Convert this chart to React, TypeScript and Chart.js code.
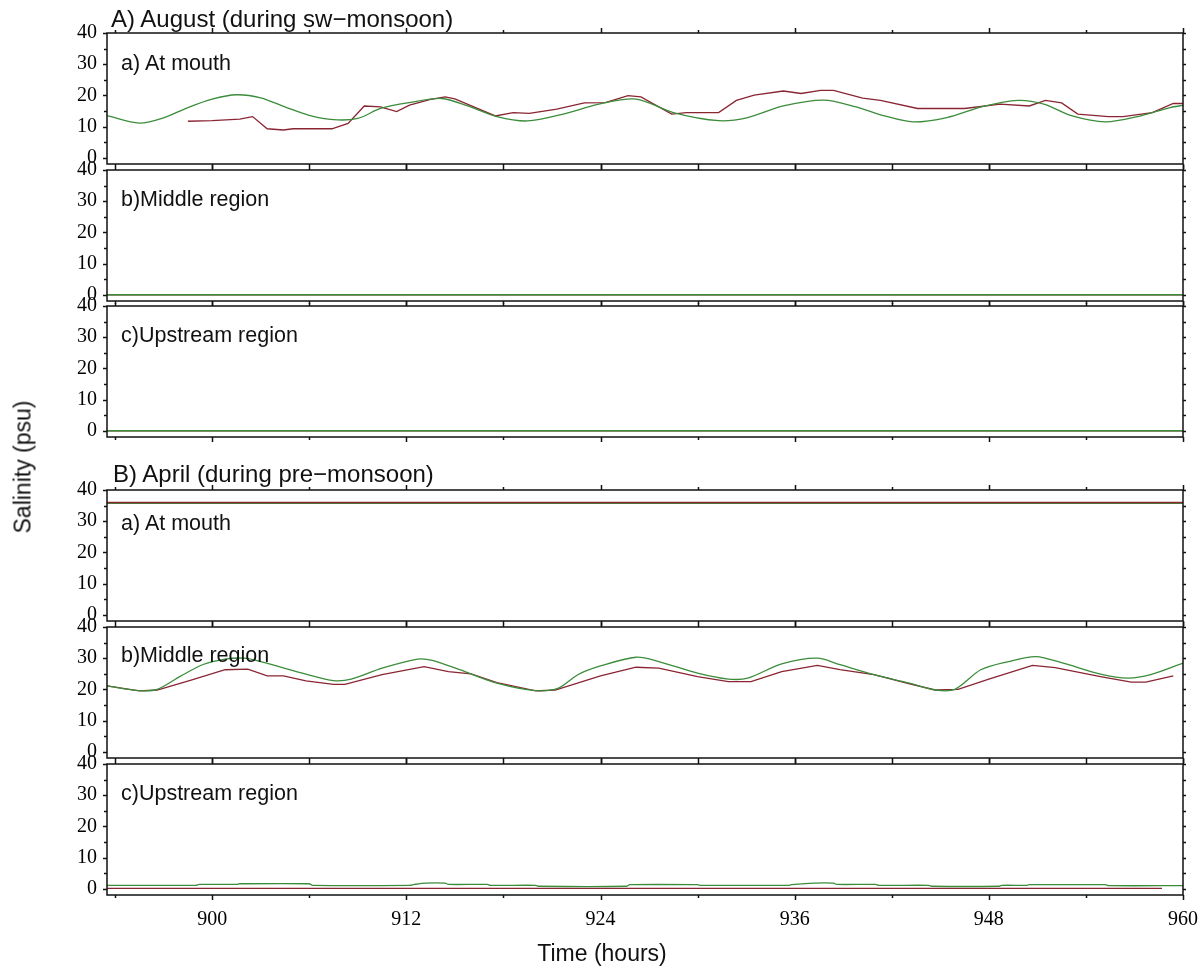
import React, { useEffect, useRef } from "react";
import { Chart, registerables } from "chart.js";

Chart.register(...registerables);

// ---------- data ----------
const X_MIN = 893.5;
const X_MAX = 960;
const X_TICKS = [894, 900, 906, 912, 918, 924, 930, 936, 942, 948, 954, 960];
const Y_TICKS = [0, 5, 10, 15, 20, 25, 30, 35, 40];

// A) August, a) at mouth
const A_MOUTH_MODEL_H = [893.5, 895.5, 897, 898.5, 900, 901.5, 903, 904.6, 906, 907.5, 909, 910.4, 912.2, 914.2, 915.8, 917.6, 919.5, 921.7, 923.9, 926.2, 928.5, 931.3, 933.1, 935.3, 937.8, 939.8, 941.5, 943.3, 945.4, 947.6, 949.8, 951.4, 953.1, 955.2, 957.2, 959.2, 960];
const A_MOUTH_MODEL_S = [13.5, 11.1, 12.8, 16.1, 18.8, 20.2, 19.2, 16.1, 13.6, 12.2, 12.6, 15.8, 17.7, 19.0, 16.6, 13.2, 11.8, 14.0, 17.2, 18.8, 14.5, 11.9, 12.9, 16.6, 18.5, 16.3, 13.5, 11.5, 12.9, 16.4, 18.4, 17.2, 13.5, 11.5, 13.2, 16.1, 16.8];
const A_MOUTH_OBS_H = [898.5, 900, 901.7, 902.5, 903.4, 904.4, 905, 907.4, 908.4, 909.4, 910.4, 911.4, 912.2, 913.5, 914.4, 915, 916.5, 917.5, 918.6, 919.6, 921.3, 923, 924.3, 925.7, 926.5, 928.4, 929.3, 931.3, 932.4, 933.5, 935.3, 936.4, 937.6, 938.4, 940.2, 941.3, 943.6, 946.5, 948.7, 950.5, 951.5, 952.5, 953.5, 955.4, 956.3, 958.1, 959.4, 960];
const A_MOUTH_OBS_S = [11.7, 11.9, 12.4, 13.2, 9.3, 8.9, 9.3, 9.3, 11.0, 16.6, 16.3, 14.8, 16.9, 18.7, 19.5, 18.9, 15.6, 13.4, 14.5, 14.2, 15.6, 17.6, 17.7, 19.9, 19.5, 14.0, 14.5, 14.5, 18.4, 20.1, 21.4, 20.6, 21.6, 21.6, 19.1, 18.4, 15.8, 15.8, 17.2, 16.6, 18.4, 17.6, 14.0, 13.2, 13.2, 14.5, 17.4, 17.4];

// A) August, b) middle and c) upstream
const FLAT_H = [893.5, 960];
const A_MIDDLE_MODEL_S = [0, 0];
const A_MIDDLE_OBS_S = [0, 0];
const A_UP_MODEL_S = [0, 0];
const A_UP_OBS_S = [0, 0];

// B) April, a) at mouth
const B_MOUTH_MODEL_S = [35.7, 35.7];
const B_MOUTH_OBS_S = [36.0, 36.0];

// B) April, b) middle region
const B_MIDDLE_MODEL_H = [893.5, 895.5, 896.6, 898, 899.4, 900.8, 902, 903, 905.8, 907.5, 908.6, 910.5, 912.7, 913.6, 915.3, 917.6, 920, 921.4, 922.6, 924, 926.2, 927.6, 930, 931.9, 933.1, 935.2, 937.4, 938.8, 940.9, 943.1, 944.7, 945.9, 947.5, 949.2, 950.9, 952.6, 954.9, 956.6, 958, 960];
const B_MIDDLE_MODEL_S = [21.1, 19.6, 20.0, 24.1, 27.9, 29.7, 30.0, 28.9, 24.9, 22.8, 23.3, 26.8, 29.7, 29.3, 26.3, 22.0, 19.6, 20.4, 24.7, 27.5, 30.3, 28.9, 25.2, 23.3, 23.6, 28.2, 30.0, 27.9, 24.7, 22.0, 19.8, 20.0, 26.3, 28.9, 30.5, 28.4, 24.9, 23.6, 24.7, 28.4];
const B_MIDDLE_OBS_H = [893.5, 895.5, 896.6, 898.7, 900.8, 902.2, 903.4, 904.4, 905.8, 907.5, 908.2, 910.5, 913.1, 914.6, 916, 917.6, 920, 921.2, 924, 926.2, 927.6, 930, 931.9, 933.3, 935.2, 937.4, 938.8, 940.9, 943.1, 944.7, 946.1, 948, 950.7, 952.1, 954.9, 956.8, 957.7, 959.4];
const B_MIDDLE_OBS_S = [21.1, 19.5, 19.8, 23.0, 26.3, 26.5, 24.3, 24.3, 22.7, 21.6, 21.6, 24.7, 27.3, 25.7, 25.0, 22.2, 19.5, 19.8, 24.3, 27.1, 26.8, 24.1, 22.5, 22.5, 25.7, 27.7, 26.3, 24.7, 21.8, 19.8, 20.0, 23.3, 27.7, 27.0, 24.1, 22.3, 22.3, 24.3];

// B) April, c) upstream region
const B_UP_MODEL_H = [893.5, 899, 899.2, 901.5, 901.7, 906, 906.2, 912.2, 912.5, 913.2, 914.4, 914.6, 917, 917.2, 920, 920.2, 925.6, 925.8, 930, 930.2, 935.6, 935.8, 937.2, 938.4, 938.6, 941, 941.2, 944.3, 944.5, 948.6, 948.8, 950.3, 950.5, 955.2, 955.4, 960];
const B_UP_MODEL_S = [1.1, 1.1, 1.4, 1.4, 1.6, 1.6, 1.1, 1.1, 1.4, 1.8, 1.8, 1.4, 1.4, 1.1, 1.1, 0.8, 0.8, 1.3, 1.3, 1.1, 1.1, 1.3, 1.8, 1.8, 1.4, 1.4, 1.1, 1.1, 0.8, 0.8, 1.1, 1.1, 1.3, 1.3, 1.0, 1.0];
const B_UP_OBS_H = [893.5, 958.7];
const B_UP_OBS_S = [0.1, 0.1];

// ---------- styles ----------
const GREEN = "#3b8c3b";
const RED = "#8a2533";
const TICK_FONT = "'Liberation Serif', 'Times New Roman', serif";
const SANS = "'Liberation Sans', Arial, Helvetica, sans-serif";

const pts = (h: number[], s: number[]) => h.map((x, i) => ({ x, y: s[i] }));

type PanelDef = {
  top: number;
  label: string;
  labelTop: number;
  model: { x: number; y: number }[];
  obs: { x: number; y: number }[];
  obsOnTop: boolean;
  showX: boolean;
};

const PANEL_H = 131;
const PAD = 28;
const PLOT_LEFT = 107;
const PLOT_RIGHT = 1183;
const PAGE_W = 1203;
const CANVAS_W = 1250;
const X_AXIS_H = 55;

const PANELS: PanelDef[] = [
  { top: 33, label: "a) At mouth", labelTop: 30, model: pts(A_MOUTH_MODEL_H, A_MOUTH_MODEL_S), obs: pts(A_MOUTH_OBS_H, A_MOUTH_OBS_S), obsOnTop: false, showX: false },
  { top: 170, label: "b)Middle region", labelTop: 29, model: pts(FLAT_H, A_MIDDLE_MODEL_S), obs: pts(FLAT_H, A_MIDDLE_OBS_S), obsOnTop: false, showX: false },
  { top: 306, label: "c)Upstream region", labelTop: 29, model: pts(FLAT_H, A_UP_MODEL_S), obs: pts(FLAT_H, A_UP_OBS_S), obsOnTop: false, showX: false },
  { top: 490, label: "a) At mouth", labelTop: 33, model: pts(FLAT_H, B_MOUTH_MODEL_S), obs: pts(FLAT_H, B_MOUTH_OBS_S), obsOnTop: true, showX: false },
  { top: 627, label: "b)Middle region", labelTop: 28, model: pts(B_MIDDLE_MODEL_H, B_MIDDLE_MODEL_S), obs: pts(B_MIDDLE_OBS_H, B_MIDDLE_OBS_S), obsOnTop: false, showX: false },
  { top: 764, label: "c)Upstream region", labelTop: 29, model: pts(B_UP_MODEL_H, B_UP_MODEL_S), obs: pts(B_UP_OBS_H, B_UP_OBS_S), obsOnTop: false, showX: true },
];

const framePlugin = {
  id: "frame",
  afterDraw(chart: any) {
    const { ctx, chartArea: a, scales } = chart;
    const x = scales.x;
    const y = scales.y;
    ctx.save();
    ctx.strokeStyle = "#111";
    ctx.lineWidth = 1.5;
    ctx.strokeRect(a.left, a.top, a.right - a.left, a.bottom - a.top);
    ctx.beginPath();
    for (const v of Y_TICKS) {
      const py = Math.round(y.getPixelForValue(v)) + 0.5;
      const len = v % 10 === 0 ? 4 : 3;
      ctx.moveTo(a.left - len, py);
      ctx.lineTo(a.left, py);
      ctx.moveTo(a.right, py);
      ctx.lineTo(a.right + 3, py);
    }
    for (const v of X_TICKS) {
      const px = Math.round(x.getPixelForValue(v)) + 0.5;
      const len = v % 12 === 0 ? 5 : 3;
      ctx.moveTo(px, a.bottom);
      ctx.lineTo(px, a.bottom + len);
      ctx.moveTo(px, a.top);
      ctx.lineTo(px, a.top - len);
    }
    ctx.stroke();
    ctx.restore();
  },
};

function PanelChart({ def }: { def: PanelDef }) {
  const ref = useRef<HTMLCanvasElement | null>(null);
  const height = PAD + PANEL_H + (def.showX ? X_AXIS_H : PAD);
  useEffect(() => {
    if (!ref.current) return;
    const chart = new Chart(ref.current, {
      type: "line",
      data: {
        datasets: [
          {
            label: "Observed",
            data: def.obs,
            borderColor: RED,
            borderWidth: 1.3,
            pointRadius: 0,
            tension: 0,
            order: def.obsOnTop ? 0 : 1,
          },
          {
            label: "Model",
            data: def.model,
            borderColor: GREEN,
            borderWidth: 1.3,
            pointRadius: 0,
            tension: 0.3,
            order: def.obsOnTop ? 1 : 0,
          },
        ],
      },
      options: {
        responsive: false,
        maintainAspectRatio: false,
        animation: false,
        devicePixelRatio: 1,
        parsing: false as any,
        layout: { padding: { left: 0, right: CANVAS_W - PLOT_RIGHT, top: PAD, bottom: def.showX ? 0 : PAD } },
        plugins: { legend: { display: false }, tooltip: { enabled: false }, title: { display: false } },
        scales: {
          x: {
            type: "linear",
            min: X_MIN,
            max: X_MAX,
            display: def.showX,
            grid: { display: false, drawTicks: false },
            border: { display: false },
            afterBuildTicks: (s: any) => {
              s.ticks = X_TICKS.map((v) => ({ value: v }));
            },
            afterFit: (s: any) => {
              s.height = def.showX ? X_AXIS_H : 0;
            },
            ticks: {
              autoSkip: false,
              maxRotation: 0,
              padding: 13,
              color: "#000",
              font: { family: TICK_FONT, size: 20 },
              callback: (v: any) => (Number(v) % 12 === 0 ? String(v) : ""),
            },
          },
          y: {
            type: "linear",
            min: -2,
            max: 40,
            grid: { display: false, drawTicks: false },
            border: { display: false },
            afterBuildTicks: (s: any) => {
              s.ticks = Y_TICKS.map((v) => ({ value: v }));
            },
            afterFit: (s: any) => {
              s.width = PLOT_LEFT;
            },
            ticks: {
              autoSkip: false,
              padding: 10,
              color: "#000",
              font: { family: TICK_FONT, size: 20 },
              callback: (v: any) => (Number(v) % 10 === 0 ? String(v) : ""),
            },
          },
        },
      },
      plugins: [framePlugin],
    } as any);
    return () => chart.destroy();
  }, [def]);
  return (
    <>
      <canvas
        ref={ref}
        width={CANVAS_W}
        height={height}
        style={{ position: "absolute", left: 0, top: def.top - PAD, width: CANVAS_W, height }}
      />
      <div
        style={{
          position: "absolute",
          left: 121,
          top: def.top + def.labelTop - 11,
          fontFamily: SANS,
          fontSize: 21.5,
          lineHeight: "22px",
          color: "#111",
          whiteSpace: "nowrap",
        }}
      >
        {def.label}
      </div>
    </>
  );
}

export default function App() {
  return (
    <div style={{ position: "absolute", left: 0, top: 0, width: PAGE_W, height: 970, background: "#fff", overflow: "hidden" }}>
      {PANELS.map((p, i) => (
        <PanelChart key={i} def={p} />
      ))}
      <div style={{ position: "absolute", left: 111, top: 7, fontFamily: SANS, fontSize: 24, lineHeight: "24px", color: "#111", whiteSpace: "nowrap" }}>
        A) August (during sw−monsoon)
      </div>
      <div style={{ position: "absolute", left: 113, top: 462, fontFamily: SANS, fontSize: 24, lineHeight: "24px", color: "#111", whiteSpace: "nowrap" }}>
        B) April (during pre−monsoon)
      </div>
      <div
        style={{
          position: "absolute",
          left: 23,
          top: 467,
          transform: "translate(-50%, -50%) rotate(-90deg)",
          fontFamily: SANS,
          fontSize: 23,
          lineHeight: "23px",
          color: "#111",
          whiteSpace: "nowrap",
        }}
      >
        Salinity (psu)
      </div>
      <div
        style={{
          position: "absolute",
          left: 602,
          top: 953,
          transform: "translate(-50%, -50%)",
          fontFamily: SANS,
          fontSize: 23,
          lineHeight: "23px",
          color: "#111",
          whiteSpace: "nowrap",
        }}
      >
        Time (hours)
      </div>
    </div>
  );
}
